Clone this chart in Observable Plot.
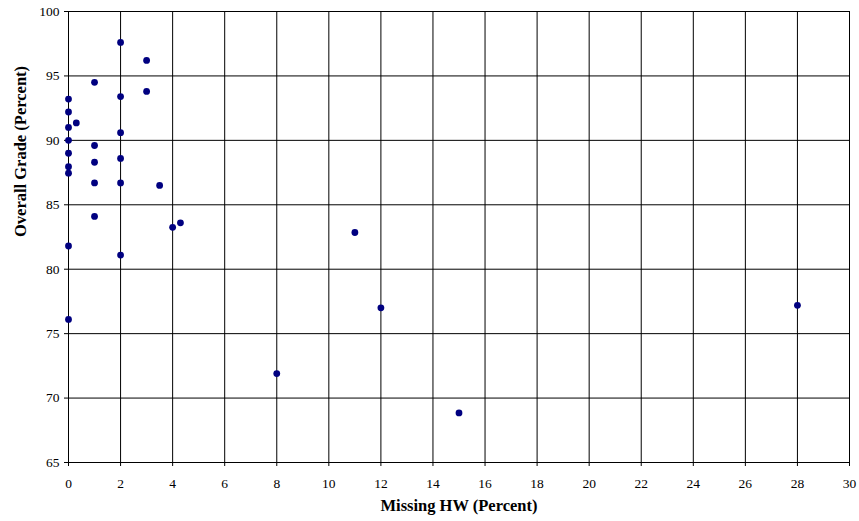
<!DOCTYPE html>
<html>
<head>
<meta charset="utf-8">
<script src="https://cdn.jsdelivr.net/npm/d3@7"></script>
<script src="https://cdn.jsdelivr.net/npm/@observablehq/plot@0.6"></script>
<style>
  html, body { margin: 0; padding: 0; background: #fff; }
  #chart svg { display: block; }
  #chart svg, #chart svg text { font-family: "Liberation Serif", "Times New Roman", Times, serif !important; }
</style>
</head>
<body>
<div id="chart"></div>
<script>
// Missing homework (percent) for each student
const missingHW = [
  2, 3, 1, 2, 3, 0, 0, 0.3, 0, 0,
  2, 1, 0, 1, 2, 0, 0, 1, 2, 3.5,
  1, 4, 4.3, 0, 2, 0, 11, 12, 8, 15,
  28
];
// Overall grade (percent) for each student
const overallGrade = [
  97.6, 96.2, 94.5, 93.4, 93.8, 93.2, 92.2, 91.35, 91.0, 90.0,
  90.6, 89.6, 89.0, 88.3, 88.6, 87.95, 87.45, 86.7, 86.7, 86.5,
  84.1, 83.25, 83.6, 81.8, 81.1, 76.1, 82.85, 77.0, 71.9, 68.85,
  77.2
];
const xTicks = [0, 2, 4, 6, 8, 10, 12, 14, 16, 18, 20, 22, 24, 26, 28, 30];
const yTicks = [65, 70, 75, 80, 85, 90, 95, 100];
const xTitle = "Missing HW (Percent)";
const yTitle = "Overall Grade (Percent)";

const data = missingHW.map((x, i) => ({x, y: overallGrade[i]}));
const serif = "'Liberation Serif', 'Times New Roman', Times, serif";

const chart = Plot.plot({
  width: 859,
  height: 521,
  marginLeft: 68,
  marginRight: 10,
  marginTop: 11,
  marginBottom: 59,
  style: {fontFamily: serif, fontSize: "13.5px", color: "#000", background: "#fff"},
  x: {domain: [0, 30]},
  y: {domain: [65, 100]},
  marks: [
    Plot.gridX(xTicks, {stroke: "#000", strokeOpacity: 1, strokeWidth: 1}),
    Plot.gridY(yTicks, {stroke: "#000", strokeOpacity: 1, strokeWidth: 1}),
    Plot.axisX(xTicks, {tickSize: 4, tickPadding: 11.5, label: null, stroke: "#000", fill: "#000", fontSize: 13.5, fontFamily: serif}),
    Plot.axisY(yTicks, {tickSize: 4, tickPadding: 5, label: null, stroke: "#000", fill: "#000", fontSize: 13.5, fontFamily: serif}),
    Plot.dot(data, {x: "x", y: "y", r: 3.4, fill: "#000080", stroke: "none"}),
    Plot.text([xTitle], {frameAnchor: "bottom", dy: 48.5, text: d => d, fontWeight: "bold", fontSize: 16.5, fontFamily: serif, fill: "#000"}),
    Plot.text([yTitle], {frameAnchor: "left", dx: -48, rotate: -90, text: d => d, fontWeight: "bold", fontSize: 16.5, fontFamily: serif, fill: "#000"})
  ]
});
document.getElementById("chart").appendChild(chart);
</script>
</body>
</html>
